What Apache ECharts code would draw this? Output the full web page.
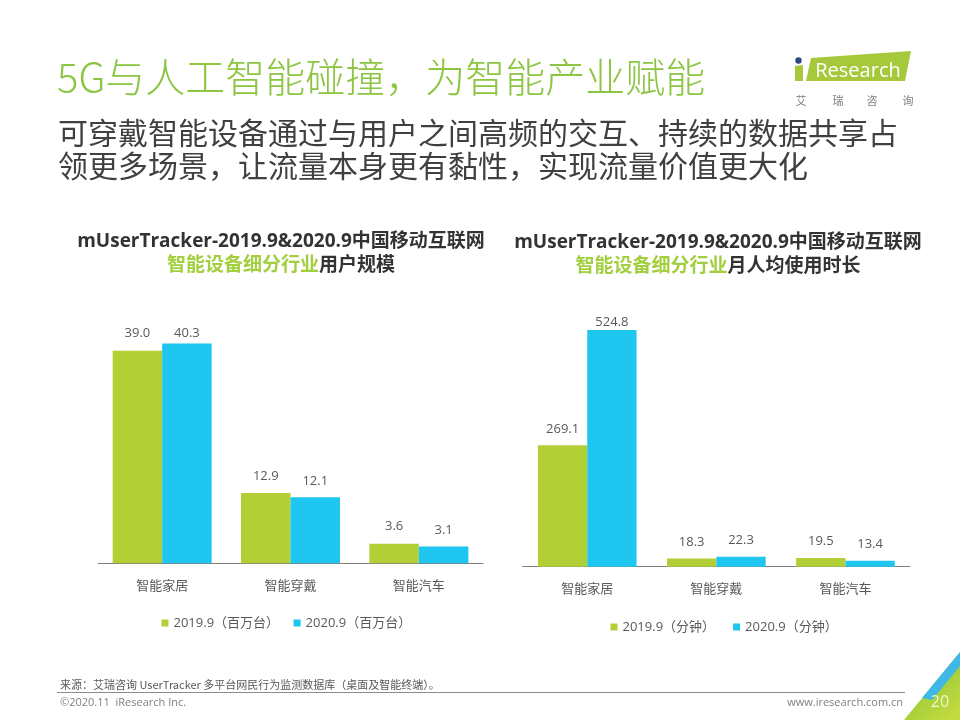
<!DOCTYPE html>
<html>
<head>
<meta charset="utf-8">
<style>
  html, body { margin: 0; padding: 0; background: #ffffff; }
  #chart { width: 960px; height: 720px; }
</style>
<script src="https://cdn.jsdelivr.net/npm/echarts@6/dist/echarts.min.js"></script>
</head>
<body>
<div id="chart"></div>
<script>
// ---- data ----
const categories = ['智能家居', '智能穿戴', '智能汽车'];
const users2019 = [39.0, 12.9, 3.6];
const users2020 = [40.3, 12.1, 3.1];
const minutes2019 = [269.1, 18.3, 19.5];
const minutes2020 = [524.8, 22.3, 13.4];
const userSeriesNames = ['2019.9（百万台）', '2020.9（百万台）'];
const timeSeriesNames = ['2019.9（分钟）', '2020.9（分钟）'];

// ---- styles ----
const GREEN = '#b2cf35';
const BLUE = '#1ec6f0';
const TEXT = '#595959';
const CJK = "'Noto Sans CJK SC', sans-serif";
const LATIN = "'Open Sans', 'Noto Sans CJK SC', sans-serif";

const chart = echarts.init(document.getElementById('chart'), null, { renderer: 'canvas' });

function barLabel(distance) {
  return {
    show: true, position: 'top', distance: distance,
    color: TEXT, fontSize: 13, fontFamily: LATIN,
    formatter: p => Number(p.value).toFixed(1)
  };
}
function withFirstDistance(arr, d) {
  return arr.map((v, i) => i === 0 ? { value: v, label: { distance: d } } : v);
}

const chartTitleRich = {
  a: { fontSize: 19, fontWeight: 'bold', color: '#333333', fontFamily: LATIN, lineHeight: 24, align: 'center' },
  g: { fontSize: 19, fontWeight: 'bold', color: '#a2cf3e', fontFamily: LATIN, lineHeight: 24, align: 'center' }
};

const option = {
  backgroundColor: '#ffffff',
  animation: false,
  title: [
    {
      text: '5G与人工智能碰撞，为智能产业赋能',
      left: 57, top: 53, padding: 0,
      textStyle: { fontSize: 40, fontWeight: 300, color: '#8cc541', fontFamily: CJK, lineHeight: 48 }
    },
    {
      text: '可穿戴智能设备通过与用户之间高频的交互、持续的数据共享占\n领更多场景，让流量本身更有黏性，实现流量价值更大化',
      left: 58, top: 116, padding: 0,
      textStyle: { fontSize: 30, fontWeight: 'normal', color: '#404040', fontFamily: CJK, lineHeight: 33 }
    },
    {
      text: '{a|mUserTracker-2019.9&2020.9中国移动互联网}\n{g|智能设备细分行业}{a|用户规模}',
      left: 281, top: 230, padding: 0, textAlign: 'center',
      textStyle: { rich: chartTitleRich }
    },
    {
      text: '{a|mUserTracker-2019.9&2020.9中国移动互联网}\n{g|智能设备细分行业}{a|月人均使用时长}',
      left: 718, top: 231, padding: 0, textAlign: 'center',
      textStyle: { rich: chartTitleRich }
    }
  ],
  legend: [
    {
      data: userSeriesNames,
      left: 161.5, top: 616, padding: 0,
      itemWidth: 7, itemHeight: 7, itemGap: 14.5,
      icon: 'rect',
      textStyle: { color: TEXT, fontSize: 13, fontFamily: LATIN, lineHeight: 14 }
    },
    {
      data: timeSeriesNames,
      left: 610.5, top: 620, padding: 0,
      itemWidth: 7, itemHeight: 7, itemGap: 18,
      icon: 'rect',
      textStyle: { color: TEXT, fontSize: 13, fontFamily: LATIN, lineHeight: 14 }
    }
  ],
  grid: [
    { left: 98, top: 318, width: 385, height: 245.3 },
    { left: 522.7, top: 296.1, width: 387.3, height: 270.6 }
  ],
  xAxis: [0, 1].map(i => ({
    type: 'category', gridIndex: i, data: categories,
    axisTick: { show: false },
    axisLine: { lineStyle: { color: '#7f7f7f', width: 1 } },
    axisLabel: { color: TEXT, fontSize: 13, fontFamily: CJK, margin: 15 }
  })),
  yAxis: [
    { type: 'value', gridIndex: 0, min: 0, max: 45, show: false, splitLine: { show: false } },
    { type: 'value', gridIndex: 1, min: 0, max: 600, show: false, splitLine: { show: false } }
  ],
  series: [
    {
      name: userSeriesNames[0], type: 'bar', xAxisIndex: 0, yAxisIndex: 0,
      data: users2019, barWidth: 49.5, barGap: '0%',
      itemStyle: { color: GREEN }, label: barLabel(10.5)
    },
    {
      name: userSeriesNames[1], type: 'bar', xAxisIndex: 0, yAxisIndex: 0,
      data: withFirstDistance(users2020, 4), barWidth: 49.5, barGap: '0%',
      itemStyle: { color: BLUE }, label: barLabel(10)
    },
    {
      name: timeSeriesNames[0], type: 'bar', xAxisIndex: 1, yAxisIndex: 1,
      data: minutes2019, barWidth: 49.3, barGap: '0%',
      itemStyle: { color: GREEN }, label: barLabel(10)
    },
    {
      name: timeSeriesNames[1], type: 'bar', xAxisIndex: 1, yAxisIndex: 1,
      data: withFirstDistance(minutes2020, 1), barWidth: 49.3, barGap: '0%',
      itemStyle: { color: BLUE }, label: barLabel(10)
    }
  ],
  graphic: [
    // iResearch logo
    { type: 'polygon', shape: { points: [[811, 58], [911, 51], [905, 81], [806, 81]] }, style: { fill: '#a5c93a' } },
    { type: 'polygon', shape: { points: [[795, 66], [803, 65], [803, 81], [795, 81]] }, style: { fill: '#a5c93a' } },
    { type: 'circle', shape: { cx: 798.5, cy: 60.5, r: 3.2 }, style: { fill: '#2b4a7a' } },
    { type: 'text', x: 858, y: 71, style: { text: 'Research', fill: '#ffffff', font: "20px 'Open Sans', sans-serif", align: 'center', verticalAlign: 'middle' } },
    { type: 'text', x: 801, y: 101, style: { text: '艾', fill: '#7f7f7f', font: "11px 'Noto Sans CJK SC', sans-serif", align: 'center', verticalAlign: 'middle' } },
    { type: 'text', x: 838, y: 101, style: { text: '瑞', fill: '#7f7f7f', font: "11px 'Noto Sans CJK SC', sans-serif", align: 'center', verticalAlign: 'middle' } },
    { type: 'text', x: 872, y: 101, style: { text: '咨', fill: '#7f7f7f', font: "11px 'Noto Sans CJK SC', sans-serif", align: 'center', verticalAlign: 'middle' } },
    { type: 'text', x: 908, y: 101, style: { text: '询', fill: '#7f7f7f', font: "11px 'Noto Sans CJK SC', sans-serif", align: 'center', verticalAlign: 'middle' } },
    // footer
    { type: 'text', x: 60, y: 685, style: { text: '来源：艾瑞咨询 UserTracker 多平台网民行为监测数据库（桌面及智能终端）。', fill: '#595959', font: "11px 'Noto Sans CJK SC', sans-serif", verticalAlign: 'middle' } },
    { type: 'line', shape: { x1: 57, y1: 692.5, x2: 905, y2: 692.5 }, style: { stroke: '#8c8c8c', lineWidth: 1 } },
    { type: 'text', x: 60, y: 702.5, style: { text: '©2020.11  iResearch Inc.', fill: '#7f7f7f', font: "11px 'Open Sans', sans-serif", verticalAlign: 'middle' } },
    { type: 'text', x: 903, y: 702.5, style: { text: 'www.iresearch.com.cn', fill: '#7f7f7f', font: "11px 'Open Sans', sans-serif", align: 'right', verticalAlign: 'middle' } },
    // corner decoration
    { type: 'polygon', shape: { points: [[904, 720], [960, 652], [960, 720]] },
      style: { fill: new echarts.graphic.LinearGradient(0, 0, 1, 1, [{ offset: 0, color: '#7dbf3f' }, { offset: 1, color: '#c9dd3c' }]) } },
    { type: 'polygon', shape: { points: [[922, 698], [960, 652], [960, 666], [932, 700]] }, style: { fill: '#3fb8e8' } },
    { type: 'text', x: 940, y: 702, style: { text: '20', fill: '#eef5c8', font: "16px 'Open Sans', sans-serif", align: 'center', verticalAlign: 'middle' } }
  ]
};

chart.setOption(option);
</script>
</body>
</html>
